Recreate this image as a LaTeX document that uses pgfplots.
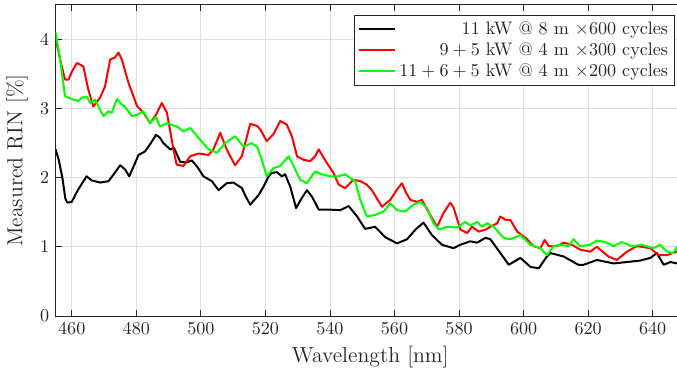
\documentclass[border=0pt]{standalone}
\usepackage{pgfplots}
\pgfplotsset{compat=1.18}
\definecolor{axgray}{RGB}{38,38,38}
\definecolor{gridgray}{RGB}{223,223,223}
\definecolor{mred}{RGB}{255,0,0}
\definecolor{mgreen}{RGB}{0,255,0}
\begin{document}
\begin{tikzpicture}
\useasboundingbox (-30.7pt,-32.6pt) rectangle (343pt,174.4pt);
\begin{axis}[
  at={(0,0)}, anchor=south west,
  scale only axis, width=347.4pt, height=171.7pt,
  xmin=455, xmax=650, ymin=0, ymax=4.5,
  xtick={460,480,...,640}, ytick={0,1,2,3,4},
  xtick pos=both, ytick pos=both, tick align=inside,
  major tick length=3.3pt,
  grid=major, major grid style={gridgray, line width=0.5pt},
  axis line style={axgray, line width=0.5pt},
  every tick/.style={axgray, line width=0.5pt},
  ticklabel style={font=\normalsize, text=axgray},
  label style={font=\large, text=axgray},
  xlabel={Wavelength [nm]}, ylabel={Measured RIN [\%]},
  legend style={at={(rel axis cs:0.984,0.968)}, anchor=north east,
    draw=axgray, line width=0.5pt, font=\normalsize, text=axgray,
    inner sep=1.5pt, row sep=-1pt},
  legend cell align=right,
  legend image code/.code={\draw[#1] (0cm,0cm) -- (0.7cm,0cm);},
  every axis plot/.append style={line width=1.1pt, line join=round},
]
\addplot[black] coordinates {
(455,2.41)(456,2.25)(457.1,2.0)(458,1.70)(458.6,1.64)(460,1.65)(462,1.83)(464.6,2.02)
(466.2,1.96)(468.8,1.93)(471.4,1.95)(473,2.05)(475,2.18)(476.5,2.12)(477.8,2.02)(479.5,2.20)
(480.7,2.33)(482.7,2.38)(484.5,2.50)(486.1,2.62)(487.3,2.58)(488.4,2.50)(490.5,2.41)(491.7,2.43)
(493.6,2.23)(495.5,2.22)(497.2,2.25)(499,2.15)(500.8,2.02)(503.4,1.95)(505.5,1.82)(508,1.92)
(510.1,1.93)(512.7,1.85)(514,1.72)(515.3,1.61)(517.9,1.75)(519.4,1.87)(521,2.02)(522,2.07)
(523.6,2.08)(525.1,2.02)(526.1,2.05)(527.7,1.87)(529.5,1.56)(531.2,1.70)(532.9,1.82)(534.5,1.72)
(536.5,1.54)(539.1,1.54)(543.2,1.53)(545.8,1.59)(548.4,1.44)(550.9,1.26)(554,1.29)(557.1,1.14)
(560.8,1.05)(563.9,1.11)(566.5,1.25)(569,1.35)(571.6,1.17)(574.7,1.03)(578.3,0.98)(580.4,1.03)
(583.5,1.08)(585.6,1.06)(588.2,1.13)(589.7,1.11)(592.8,0.91)(595.4,0.74)(599,0.84)(602.1,0.71)
(604.7,0.69)(607.2,0.86)(608.3,0.91)(612.4,0.86)(617,0.74)(618.6,0.74)(622.7,0.81)(627.9,0.76)
(632,0.78)(636,0.80)(639.3,0.84)(641.3,0.91)(643.4,0.74)(645.5,0.78)(647.5,0.76)(650,0.77)
};
\addlegendentry{11 kW @ 8 m $\times$600 cycles}
\addplot[mred] coordinates {
(455,4.01)(456.4,3.71)(457.9,3.42)(459,3.42)(460,3.53)(461.6,3.66)(463.6,3.61)(465.1,3.28)
(466.7,3.03)(468.8,3.16)(470.3,3.32)(471.9,3.71)(473.4,3.74)(474.5,3.81)(475.5,3.71)(477.6,3.37)
(480.2,3.04)(482.2,2.94)(484.3,2.79)(486.1,2.91)(487.9,3.08)(489.5,2.94)(491.5,2.41)(492.5,2.19)
(494.6,2.17)(496.7,2.31)(499.3,2.35)(502.4,2.33)(503.9,2.41)(506,2.65)(508,2.41)(510.6,2.18)
(512.7,2.31)(515.3,2.78)(517.4,2.75)(518.4,2.70)(520.4,2.53)(522.5,2.63)(524.6,2.82)(526.6,2.77)
(528.2,2.60)(529.8,2.31)(531.8,2.26)(533.9,2.24)(535.4,2.31)(536.5,2.41)(539.1,2.21)(541.1,2.07)
(542.7,1.90)(544.7,1.85)(547.3,1.97)(549.4,1.95)(551.4,1.90)(553,1.82)(556.1,1.58)(558.7,1.68)
(560.8,1.83)(562.3,1.92)(563.4,1.80)(564.9,1.68)(567,1.65)(568.5,1.68)(570.1,1.54)(573.2,1.29)
(575.2,1.49)(577.3,1.64)(578.3,1.57)(580.4,1.25)(582.5,1.20)(584,1.29)(586.1,1.22)(588.2,1.25)
(589.7,1.29)(591.8,1.34)(592.8,1.44)(594.4,1.39)(595.9,1.39)(598,1.22)(600.6,1.13)(603.1,1.01)
(605.2,0.98)(606.5,1.10)(607.8,1.01)(610.3,1.01)(612.4,1.06)(615,1.03)(617.5,0.96)(620.6,0.93)
(622.7,1.00)(626.3,0.86)(628.9,0.81)(632,0.93)(635.1,1.01)(639.3,0.98)(641.8,0.88)(644.4,0.88)
(647.5,0.93)(650,0.95)
};
\addlegendentry{$9 + 5$ kW @ 4 m $\times$300 cycles}
\addplot[mgreen] coordinates {
(455,4.10)(456.4,3.71)(457.9,3.18)(460.5,3.13)(462.1,3.11)(463.1,3.16)(464.7,3.17)(465.7,3.08)
(467.2,3.13)(469.8,2.89)(471.4,2.96)(472.4,2.94)(474,3.14)(475.5,3.06)(476.5,3.03)(478.6,2.89)
(480.2,2.91)(482.2,2.96)(484.3,2.79)(486.1,2.88)(487.3,2.74)(489.5,2.79)(492.6,2.74)(494.6,2.67)
(496.7,2.72)(499.8,2.55)(502.4,2.41)(505,2.36)(507.5,2.50)(510.6,2.60)(513.2,2.45)(515.7,2.50)
(517.4,2.45)(518.9,2.26)(520.4,2.02)(522.5,2.14)(524.6,2.17)(527.2,2.31)(528.7,2.17)(530.8,1.97)
(532.8,1.92)(535.4,2.09)(537.5,2.05)(540,2.02)(542.6,2.02)(544.7,2.05)(546.2,2.00)(547.8,1.95)
(549.4,1.68)(551.4,1.44)(554,1.46)(556.6,1.51)(558.7,1.63)(560.8,1.53)(563.3,1.51)(565.9,1.61)
(568,1.65)(570.1,1.56)(572.1,1.34)(573.7,1.25)(576.3,1.29)(579.4,1.28)(581.9,1.36)(583.5,1.31)
(585.6,1.36)(587.1,1.29)(588.7,1.34)(590.7,1.29)(593.8,1.13)(595.9,1.11)(599,1.17)(602.1,1.03)
(605.2,0.98)(607.2,0.88)(609.3,1.01)(611.4,1.03)(613.9,1.01)(615.5,1.11)(617.5,1.01)(620.6,1.03)
(622.7,1.09)(625.3,1.07)(627.9,1.01)(630.4,1.07)(633.5,1.01)(636.6,1.03)(640.2,0.98)(642.3,1.03)
(644.4,0.93)(646.4,0.91)(647.5,1.00)(650,0.97)
};
\addlegendentry{$11 + 6 + 5$ kW @ 4 m $\times$200 cycles}
\end{axis}
\end{tikzpicture}
\end{document}
